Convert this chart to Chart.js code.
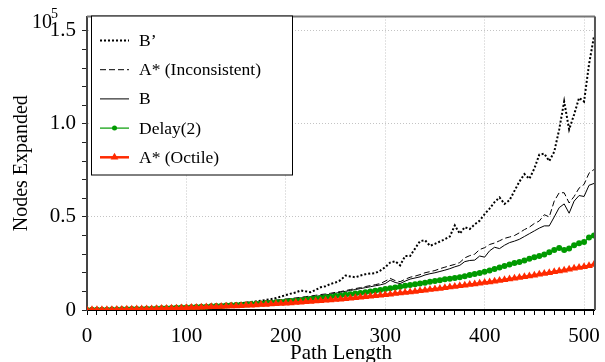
<!DOCTYPE html>
<html>
<head>
<meta charset="utf-8">
<script src="https://cdn.jsdelivr.net/npm/chart.js@4.4.0/dist/chart.umd.min.js"></script>
<style>
body { margin: 0; background: #fff; }
</style>
</head>
<body>
<canvas id="nodes" width="605" height="362"></canvas>
<script>
// path length (x), values in units of 10^5 nodes
const pathLength = [
  0,5,10,15,20,25,30,35,40,45,
  50,55,60,65,70,75,80,85,90,95,
  100,105,110,115,120,125,130,135,140,145,
  150,155,160,165,170,175,180,185,190,195,
  200,205,210,215,220,225,230,235,240,245,
  250,255,260,265,270,275,280,285,290,295,
  300,305,310,315,320,325,330,335,340,345,
  350,355,360,365,370,375,380,385,390,395,
  400,405,410,415,420,425,430,435,440,445,
  450,455,460,465,470,475,480,485,490,495,
  500,505,510
];

const bPrime = [
  0.002,0.002,0.003,0.003,0.004,0.004,0.005,0.005,0.006,0.006,
  0.007,0.008,0.009,0.009,0.010,0.011,0.012,0.013,0.014,0.015,
  0.016,0.018,0.019,0.021,0.022,0.024,0.026,0.028,0.030,0.032,
  0.035,0.037,0.040,0.043,0.046,0.050,0.054,0.058,0.064,0.072,
  0.080,0.088,0.094,0.105,0.100,0.096,0.108,0.122,0.128,0.140,
  0.148,0.160,0.185,0.180,0.176,0.185,0.192,0.196,0.198,0.212,
  0.230,0.255,0.262,0.240,0.290,0.290,0.330,0.370,0.375,0.345,
  0.355,0.368,0.380,0.395,0.455,0.410,0.445,0.435,0.460,0.480,
  0.515,0.545,0.580,0.605,0.570,0.590,0.640,0.690,0.730,0.705,
  0.760,0.835,0.840,0.800,0.850,0.970,1.120,0.970,1.050,1.140,
  1.120,1.320,1.470
];

const aStarInconsistent = [
  0.001,0.001,0.001,0.002,0.002,0.003,0.003,0.004,0.004,0.005,
  0.006,0.006,0.007,0.008,0.009,0.010,0.011,0.012,0.013,0.014,
  0.015,0.016,0.018,0.019,0.021,0.022,0.024,0.026,0.028,0.030,
  0.032,0.034,0.036,0.039,0.041,0.044,0.047,0.050,0.053,0.056,
  0.059,0.062,0.065,0.068,0.072,0.075,0.079,0.083,0.086,0.090,
  0.095,0.099,0.104,0.110,0.115,0.120,0.126,0.131,0.136,0.142,
  0.155,0.170,0.158,0.152,0.165,0.176,0.182,0.190,0.200,0.206,
  0.212,0.222,0.230,0.238,0.245,0.255,0.280,0.292,0.300,0.325,
  0.335,0.352,0.360,0.372,0.385,0.392,0.400,0.415,0.432,0.445,
  0.465,0.478,0.512,0.500,0.585,0.630,0.630,0.575,0.610,0.655,
  0.675,0.735,0.755
];

const bSolid = [
  0.001,0.001,0.001,0.002,0.002,0.003,0.003,0.004,0.004,0.005,
  0.006,0.006,0.007,0.008,0.009,0.010,0.011,0.012,0.013,0.014,
  0.015,0.016,0.017,0.019,0.020,0.022,0.023,0.025,0.027,0.028,
  0.030,0.032,0.034,0.036,0.038,0.041,0.043,0.046,0.049,0.052,
  0.055,0.058,0.061,0.064,0.067,0.070,0.073,0.077,0.081,0.085,
  0.090,0.095,0.100,0.105,0.110,0.115,0.120,0.125,0.130,0.135,
  0.142,0.160,0.148,0.142,0.155,0.166,0.172,0.178,0.188,0.195,
  0.200,0.207,0.214,0.222,0.232,0.240,0.260,0.266,0.268,0.290,
  0.284,0.318,0.337,0.330,0.348,0.362,0.370,0.380,0.395,0.410,
  0.425,0.440,0.452,0.452,0.500,0.550,0.570,0.520,0.585,0.615,
  0.610,0.670,0.680
];

const delay2 = [
  0.000,0.001,0.001,0.002,0.002,0.003,0.003,0.004,0.004,0.005,
  0.005,0.006,0.007,0.007,0.008,0.009,0.010,0.011,0.012,0.013,
  0.014,0.015,0.016,0.017,0.018,0.020,0.021,0.022,0.024,0.025,
  0.027,0.028,0.030,0.032,0.033,0.035,0.037,0.039,0.041,0.043,
  0.046,0.048,0.050,0.053,0.056,0.059,0.062,0.065,0.068,0.071,
  0.075,0.078,0.082,0.085,0.089,0.092,0.096,0.100,0.104,0.108,
  0.113,0.117,0.121,0.125,0.130,0.134,0.139,0.143,0.147,0.152,
  0.156,0.160,0.165,0.168,0.172,0.176,0.182,0.188,0.194,0.199,
  0.206,0.212,0.220,0.228,0.236,0.244,0.252,0.258,0.266,0.275,
  0.284,0.290,0.298,0.310,0.322,0.333,0.322,0.330,0.348,0.358,
  0.365,0.390,0.400
];

const aStarOctile = [
  0.000,0.001,0.001,0.001,0.002,0.002,0.003,0.003,0.004,0.004,
  0.005,0.005,0.006,0.006,0.007,0.008,0.008,0.009,0.010,0.011,
  0.012,0.013,0.014,0.015,0.016,0.017,0.018,0.019,0.020,0.021,
  0.022,0.023,0.025,0.026,0.027,0.029,0.030,0.032,0.033,0.035,
  0.036,0.038,0.040,0.042,0.044,0.046,0.048,0.050,0.052,0.054,
  0.056,0.058,0.061,0.063,0.066,0.068,0.071,0.074,0.077,0.079,
  0.082,0.085,0.088,0.091,0.094,0.097,0.100,0.103,0.106,0.110,
  0.113,0.116,0.120,0.123,0.126,0.130,0.133,0.137,0.140,0.144,
  0.148,0.151,0.155,0.159,0.163,0.167,0.171,0.175,0.179,0.183,
  0.187,0.192,0.196,0.200,0.205,0.209,0.214,0.219,0.224,0.228,
  0.233,0.238,0.244
];

const xMajor = [0, 100, 200, 300, 400, 500];
const yMajor = [0, 0.5, 1.0, 1.5];
const yTickLabels = ['0', '0.5', '1.0', '1.5'];

const serif = '"Liberation Serif", "DejaVu Serif", serif';
const red = '#ff2a00';
const green = '#009a00';

// minor tick positions: every 10 on x, every 0.1 on y
const xTickVals = [];
for (let i = 0; i <= 51; i++) xTickVals.push(i * 10);
const yTickVals = [];
for (let i = 0; i <= 15; i++) yTickVals.push(i / 10);

const isMajorX = v => xMajor.includes(v);
const majorYIndex = v => yMajor.findIndex(m => Math.abs(m - v) < 1e-6);

const pts = arr => arr.map((y, i) => ({ x: pathLength[i], y: y }));

const frameAndLegend = {
  id: 'frameAndLegend',
  afterDraw(chart) {
    const c = chart.ctx;
    const a = chart.chartArea;
    c.save();
    // top and right frame
    c.lineWidth = 2;
    c.strokeStyle = '#777';
    c.beginPath();
    c.moveTo(a.left, a.top);
    c.lineTo(a.right, a.top);
    c.stroke();
    c.strokeStyle = '#555';
    c.beginPath();
    c.moveTo(a.right, a.top);
    c.lineTo(a.right, a.bottom);
    c.stroke();

    // exponent label
    c.fillStyle = '#000';
    c.textBaseline = 'alphabetic';
    c.textAlign = 'left';
    c.font = '20px ' + serif;
    c.fillText('10', 32, 28);
    c.font = '14px ' + serif;
    c.fillText('5', 51, 18);

    // legend box
    const bx = a.left + 4.5, by = a.top - 0.5, bw = 201, bh = 159;
    c.fillStyle = '#fff';
    c.fillRect(bx, by, bw, bh);
    c.lineWidth = 1;
    c.strokeStyle = '#000';
    c.strokeRect(bx, by, bw, bh);

    c.font = '17.5px ' + serif;
    c.textBaseline = 'middle';
    chart.data.datasets.forEach((ds, i) => {
      const y = a.top + 24 + i * 29.2;
      const x0 = a.left + 13, x1 = a.left + 42;
      c.strokeStyle = ds.borderColor;
      c.lineWidth = ds.borderWidth;
      c.setLineDash(ds.borderDash || []);
      c.beginPath();
      c.moveTo(x0, y);
      c.lineTo(x1, y);
      c.stroke();
      c.setLineDash([]);
      const mx = (x0 + x1) / 2;
      c.fillStyle = ds.pointBackgroundColor || ds.borderColor;
      if (ds.pointStyle === 'circle' && ds.pointRadius > 0) {
        c.beginPath();
        c.arc(mx, y, ds.pointRadius - 0.5, 0, Math.PI * 2);
        c.fill();
      } else if (ds.pointStyle === 'triangle' && ds.pointRadius > 0) {
        const r = ds.pointRadius;
        c.beginPath();
        c.moveTo(mx, y - r);
        c.lineTo(mx + r * 0.866, y + r / 2);
        c.lineTo(mx - r * 0.866, y + r / 2);
        c.closePath();
        c.fill();
      }
      c.fillStyle = '#000';
      c.fillText(ds.label, a.left + 52, y + 1);
    });
    c.restore();
  }
};

new Chart(document.getElementById('nodes'), {
  type: 'line',
  data: {
    datasets: [
      { label: 'B\u2019', data: pts(bPrime), borderColor: '#000', borderWidth: 2,
        borderDash: [2, 2], pointRadius: 0, order: 4 },
      { label: 'A* (Inconsistent)', data: pts(aStarInconsistent), borderColor: '#000', borderWidth: 1,
        borderDash: [6, 3], pointRadius: 0, order: 3 },
      { label: 'B', data: pts(bSolid), borderColor: '#000', borderWidth: 1,
        pointRadius: 0, order: 2 },
      { label: 'Delay(2)', data: pts(delay2), borderColor: green, borderWidth: 1.2,
        pointStyle: 'circle', pointRadius: 3, pointBackgroundColor: green,
        pointBorderWidth: 0, order: 1 },
      { label: 'A* (Octile)', data: pts(aStarOctile), borderColor: red, borderWidth: 2.5,
        pointStyle: 'triangle', pointRadius: 4.5, pointBackgroundColor: red,
        pointBorderColor: red, pointBorderWidth: 0, order: 0 }
    ]
  },
  options: {
    responsive: false,
    animation: false,
    layout: { padding: { left: 0, right: 7, top: 14, bottom: 0 } },
    plugins: { legend: { display: false }, tooltip: { enabled: false } },
    elements: { line: { tension: 0 } },
    scales: {
      x: {
        type: 'linear', min: 0, max: 511,
        afterBuildTicks: s => { s.ticks = xTickVals.map(v => ({ value: v })); },
        afterFit: s => { s.height = 52; },
        ticks: {
          autoSkip: false, maxRotation: 0, padding: 11, color: '#000',
          font: { family: serif, size: 21, lineHeight: 1 },
          callback: v => isMajorX(v) ? String(v) : ''
        },
        grid: {
          color: ctx => (ctx.tick && isMajorX(ctx.tick.value)) ? '#c4c4c4' : 'rgba(0,0,0,0)',
          tickColor: '#000', tickLength: 5, lineWidth: 1, tickBorderDash: []
        },
        border: { color: '#000', width: 2, dash: [1, 2] },
        title: {
          display: true, text: 'Path Length', color: '#000',
          font: { family: serif, size: 21, lineHeight: 1 },
          padding: { top: 0, bottom: -2 }
        }
      },
      y: {
        type: 'linear', min: 0, max: 1.577,
        afterBuildTicks: s => { s.ticks = yTickVals.map(v => ({ value: v })); },
        afterFit: s => { s.width = 87; },
        ticks: {
          autoSkip: false, padding: 6, color: '#000',
          font: { family: serif, size: 21, lineHeight: 1 },
          callback: v => { const k = majorYIndex(v); return k >= 0 ? yTickLabels[k] : ''; }
        },
        grid: {
          color: ctx => (ctx.tick && majorYIndex(ctx.tick.value) >= 0) ? '#c4c4c4' : 'rgba(0,0,0,0)',
          tickColor: '#222', tickLength: 5, lineWidth: 1, tickBorderDash: []
        },
        border: { color: '#444', width: 2, dash: [1, 2] },
        title: {
          display: true, text: 'Nodes Expanded', color: '#000',
          font: { family: serif, size: 20, lineHeight: 1 },
          padding: { top: 12, bottom: 0 }
        }
      }
    }
  },
  plugins: [frameAndLegend]
});
</script>
</body>
</html>
